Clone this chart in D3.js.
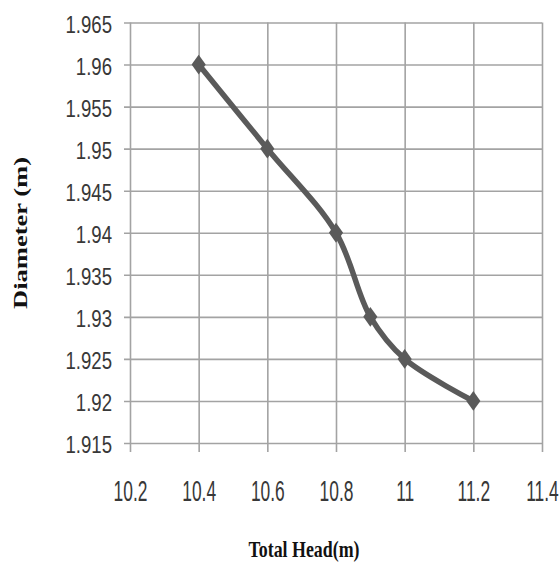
<!DOCTYPE html>
<html>
<head>
<meta charset="utf-8">
<script src="https://cdn.jsdelivr.net/npm/d3@7"></script>
<style>
  html, body { margin: 0; padding: 0; background: #fff; }
  svg { display: block; }
</style>
</head>
<body>
<svg id="chart" width="560" height="563"></svg>
<script>
// Total head (m) against pipe diameter (m)
const totalHead = [10.4, 10.6, 10.8, 10.9, 11.0, 11.2];
const diameter  = [1.96, 1.95, 1.94, 1.93, 1.925, 1.92];
const xTicks = [10.2, 10.4, 10.6, 10.8, 11.0, 11.2, 11.4];
const yTicks = [1.915, 1.92, 1.925, 1.93, 1.935, 1.94, 1.945, 1.95, 1.955, 1.96, 1.965];
const xTitle = "Total Head(m)";
const yTitle = "Diameter (m)";

const svg = d3.select("#chart");
const plotLeft = 130, plotRight = 542, plotTop = 22.5, plotBottom = 443;

const x = d3.scaleLinear().domain([10.2, 11.4]).range([plotLeft, plotRight]);
const y = d3.scaleLinear().domain([1.915, 1.965]).range([plotBottom, plotTop]);

// Tick labels: a regular sans squeezed sideways to get a tall, narrow look
const labelFont = '"Liberation Sans", Arial, sans-serif';
const gridColor = "#a3a3a3";

// Horizontal gridlines with short ticks to the left, plus value labels
const gy = svg.append("g")
  .attr("transform", `translate(${plotLeft},0)`)
  .call(d3.axisLeft(y).tickValues(yTicks).tickSize(-(plotRight - plotLeft)).tickPadding(0)
    .tickFormat(d => String(+d.toFixed(3))));
gy.select(".domain").remove();
gy.selectAll(".tick line").attr("x1", -6).attr("stroke", gridColor).attr("stroke-width", 1.6);
gy.selectAll(".tick text")
  .attr("x", null).attr("dy", null)
  .attr("transform", "translate(-18,9.5) scale(0.93,1.24)")
  .attr("font-family", labelFont).attr("font-size", 20).attr("fill", "#383838")
  .attr("text-anchor", "end");

// Vertical gridlines with short ticks below, plus value labels
const gx = svg.append("g")
  .attr("transform", `translate(0,${plotBottom})`)
  .call(d3.axisBottom(x).tickValues(xTicks).tickSize(-(plotBottom - plotTop)).tickPadding(0)
    .tickFormat(d => String(+d.toFixed(1))));
gx.select(".domain").remove();
gx.selectAll(".tick line").attr("y1", 9).attr("stroke", gridColor).attr("stroke-width", 1.6);
gx.selectAll(".tick text")
  .attr("y", null).attr("dy", null)
  .attr("transform", "translate(0,57.5) scale(0.87,1.45)")
  .attr("font-family", labelFont).attr("font-size", 20).attr("fill", "#383838")
  .attr("text-anchor", "middle");

// Smoothed data line
const pts = totalHead.map((h, i) => [h, diameter[i]]);
svg.append("path")
  .datum(pts)
  .attr("fill", "none")
  .attr("stroke", "#5a5a5a")
  .attr("stroke-width", 5.5)
  .attr("stroke-linejoin", "round")
  .attr("d", d3.line().x(d => x(d[0])).y(d => y(d[1])).curve(d3.curveCatmullRom.alpha(0.5)));

// Diamond markers (taller than wide)
svg.append("g").selectAll("path")
  .data(pts)
  .join("path")
  .attr("transform", d => `translate(${x(d[0])},${y(d[1])}) scale(1,1.4) rotate(45)`)
  .attr("d", d3.symbol(d3.symbolSquare, 100))
  .attr("fill", "#5a5a5a");

// Axis titles
svg.append("text")
  .attr("x", 304).attr("y", 557)
  .attr("text-anchor", "middle")
  .attr("font-family", '"Liberation Serif", "Times New Roman", serif')
  .attr("font-weight", "bold").attr("font-size", 24)
  .attr("textLength", 111).attr("lengthAdjust", "spacingAndGlyphs")
  .attr("fill", "#111")
  .text(xTitle);

svg.append("text")
  .attr("transform", "translate(26.5,233) rotate(-90)")
  .attr("text-anchor", "middle")
  .attr("font-family", '"Liberation Serif", "Times New Roman", serif')
  .attr("font-weight", "bold").attr("font-size", 19)
  .attr("textLength", 152).attr("lengthAdjust", "spacingAndGlyphs")
  .attr("fill", "#111")
  .text(yTitle);
</script>
</body>
</html>
